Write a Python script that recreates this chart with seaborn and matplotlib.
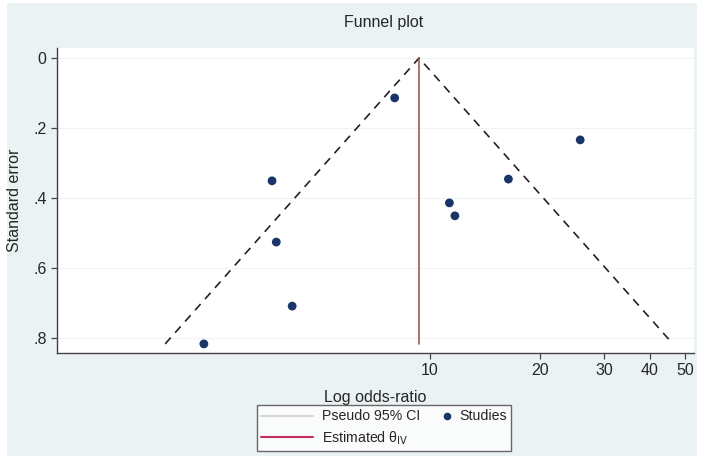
import numpy as np
import pandas as pd
import seaborn as sns
import matplotlib.pyplot as plt
from matplotlib.patches import Rectangle
from matplotlib.lines import Line2D
from matplotlib.legend_handler import HandlerLine2D

# studies: odds ratio and standard error
study_or = [8.0, 25.8, 16.4, 11.3, 11.7, 3.69, 3.79, 4.19, 2.40]
study_se = [0.114, 0.234, 0.346, 0.414, 0.451, 0.351, 0.526, 0.709, 0.817]

# pseudo 95% CI funnel (left end, apex, right end) and pooled estimate
funnel_or = [1.88, 9.33, 46.3]
funnel_se = [0.817, 0.0, 0.817]
theta_or = 9.33
theta_se = [0.0, 0.817]

xticks = [10, 20, 30, 40, 50]
yticks = [0, 0.2, 0.4, 0.6, 0.8]
ytick_labels = ["0", ".2", ".4", ".6", ".8"]


class RightMarker(HandlerLine2D):
    # put the marker at the right end of the handle box
    def create_artists(self, legend, orig_handle, xdescent, ydescent,
                       width, height, fontsize, trans):
        m = Line2D([width - xdescent - 3], [height / 2 - ydescent],
                   marker="o", ls="none", color=orig_handle.get_color(),
                   markersize=orig_handle.get_markersize(), transform=trans)
        return [m]


sns.set_style("ticks")
plt.rcParams['font.family'] = ['Liberation Sans', 'DejaVu Sans']

df = pd.DataFrame({"or": study_or, "se": study_se})

fig = plt.figure(figsize=(7.15, 4.70), dpi=100, facecolor="white")
fig.patches.append(Rectangle((7 / 715, 1 - 456 / 470), 690 / 715, 453 / 470,
                             transform=fig.transFigure, facecolor="#eaf2f3",
                             edgecolor="none", zorder=-10))
ax = fig.add_axes([57 / 715, 1 - 353 / 470, 637 / 715, 305 / 470])
ax.set_facecolor("white")

ax.set_xscale("log")
for y in yticks:
    ax.axhline(y, color="#eef3f4", lw=0.8, zorder=0)

ax.plot(funnel_or, funnel_se, color="#222222", ls=(0, (5, 4)), lw=1.2, zorder=2)
ax.plot([theta_or, theta_or], theta_se, color="#a05a55", lw=1.2, zorder=2)
sns.scatterplot(data=df, x="or", y="se", ax=ax, color="#1a3668", s=40,
                edgecolor="none", zorder=3, legend=False)

ax.set_xlim(0.95, 52.9)
ax.set_ylim(0.843, -0.0286)
ax.set_xticks(xticks)
ax.set_xticklabels([str(t) for t in xticks], fontsize=11.5)
ax.xaxis.set_minor_locator(plt.NullLocator())
ax.set_yticks(yticks)
ax.set_yticklabels(ytick_labels, fontsize=11.5)
ax.tick_params(axis="both", direction="out", length=4, width=0.9, color="#444444")
for s in ["top", "right"]:
    ax.spines[s].set_visible(False)
for s in ["left", "bottom"]:
    ax.spines[s].set_color("#444444")
    ax.spines[s].set_linewidth(1.0)

ax.set_xlabel("Log odds-ratio", fontsize=11.5, labelpad=8)
ax.set_ylabel("Standard error", fontsize=11.5, labelpad=8)
fig.text(384 / 715, 1 - 22 / 470, "Funnel plot", ha="center", va="center", fontsize=11.5)

studies_handle = Line2D([], [], color="#1a3668", marker="o", ls="none", markersize=4.5)
handles = [
    Line2D([], [], color="#d4d4d4", lw=1.5),
    Line2D([], [], color="#c0305a", lw=1.5),
    studies_handle,
]
labels = ["Pseudo 95% CI", "Estimated θ$_{\\rm IV}$", "Studies"]
leg = fig.legend(handles, labels, ncol=2, loc="center", bbox_to_anchor=(384 / 715, 1 - 428 / 470),
                 frameon=True, fancybox=False, edgecolor="#444444", fontsize=10.2,
                 handlelength=3.7, columnspacing=-1.5, borderpad=0.3, labelspacing=0.4,
                 handletextpad=0.6, handler_map={studies_handle: RightMarker()})
leg.get_frame().set_linewidth(1.0)

fig.savefig("out.png", dpi=100)
